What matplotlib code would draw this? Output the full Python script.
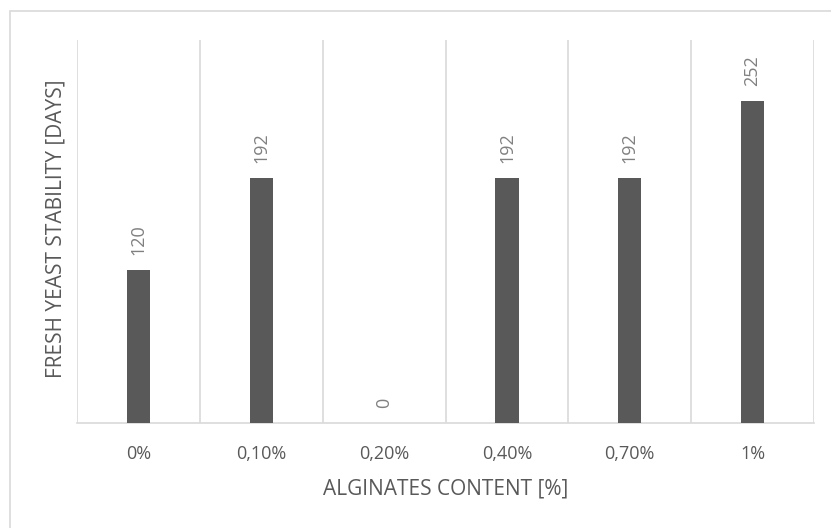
import matplotlib
matplotlib.use("Agg")
import matplotlib.pyplot as plt
from matplotlib.patches import Rectangle

categories = ["0%", "0,10%", "0,20%", "0,40%", "0,70%", "1%"]
values = [120, 192, 0, 192, 192, 252]

W, H = 831, 528
fig = plt.figure(figsize=(W / 100, H / 100), dpi=100)
plt.rcParams['font.family'] = ['Open Sans', 'DejaVu Sans']

# outer chart border (right and bottom edges lie outside the image)
fig.patches.append(Rectangle((10 / W, -0.1), 1.2, 1.1 - 11 / H, transform=fig.transFigure,
                             fill=False, edgecolor="#d9d9d9", linewidth=1.2))

left, right, top, bottom = 77, 814, 40, 423
ax = fig.add_axes([left / W, 1 - bottom / H, (right - left) / W, (bottom - top) / H])

x = list(range(len(categories)))
ax.bar(x, values, width=0.19, color="#595959", zorder=3)
ax.set_xlim(-0.5, len(categories) - 0.5)
ax.set_ylim(0, 300)

for xi, v in zip(x, values):
    ax.annotate(str(v), (xi, v), xytext=(0, 11), textcoords="offset points",
                rotation=90, ha="center", va="bottom", fontsize=13, color="#808080")

for b in [i - 0.5 for i in range(len(categories) + 1)]:
    ax.axvline(b, color="#d9d9d9", linewidth=1.2, zorder=1)

for s in ["top", "right", "left"]:
    ax.spines[s].set_visible(False)
ax.spines["bottom"].set_color("#d9d9d9")
ax.spines["bottom"].set_linewidth(1.2)

ax.set_xticks(x)
ax.set_xticklabels(categories, fontsize=13, color="#595959")
ax.tick_params(axis="x", length=0, pad=16)
ax.set_yticks([])

ax.set_xlabel("ALGINATES CONTENT [%]", fontsize=15, color="#595959")
ax.xaxis.set_label_coords(0.5, -(478 - 423) / (bottom - top))
ax.xaxis.label.set_va("top")
ax.set_ylabel("FRESH YEAST STABILITY [DAYS]", fontsize=15, color="#595959")
ax.yaxis.set_label_coords(-(77 - 67) / (right - left), (423 - 229) / (bottom - top))

fig.savefig("out.png", dpi=100)
